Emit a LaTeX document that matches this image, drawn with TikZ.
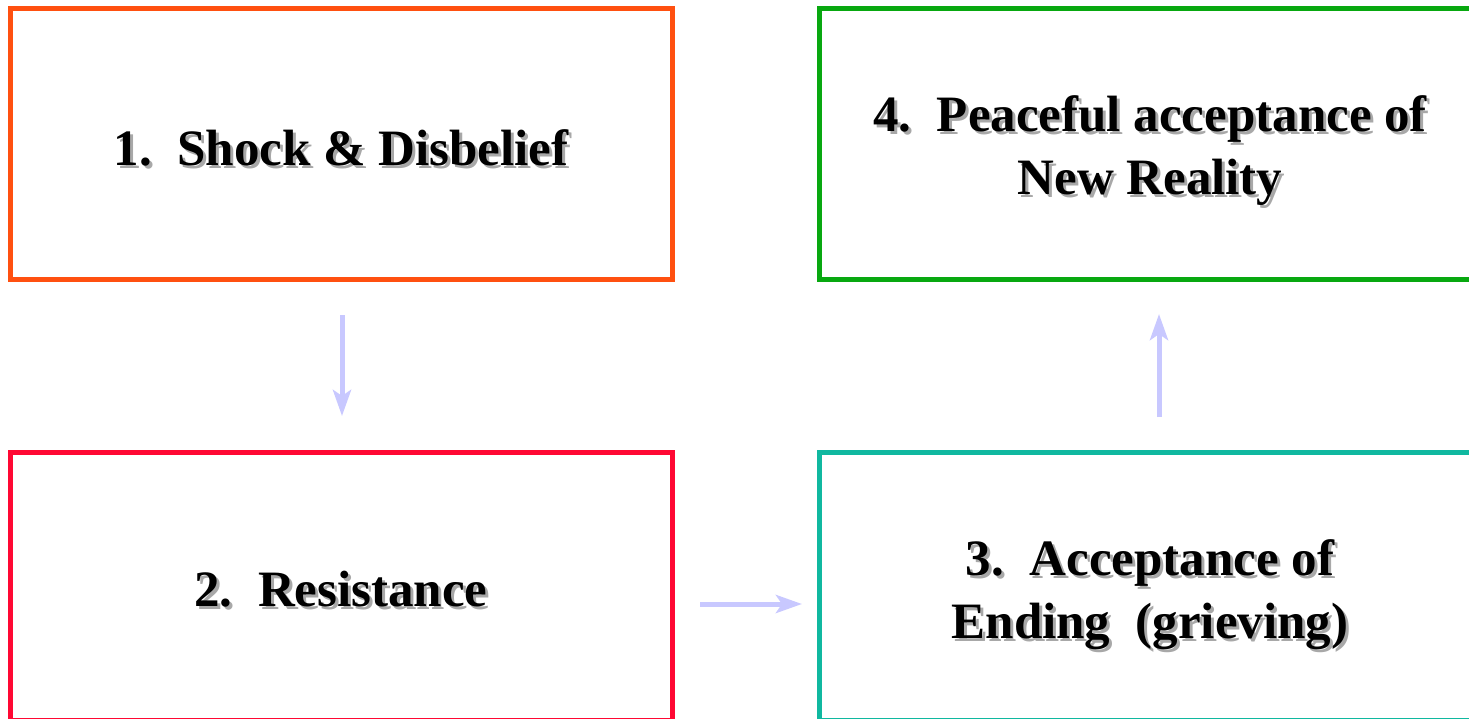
\documentclass[tikz,border=0pt]{standalone}
\usepackage{fontspec}
\setmainfont{Liberation Serif}
\usetikzlibrary{arrows.meta}
\definecolor{cshock}{HTML}{FF5010}
\definecolor{cresist}{HTML}{FF0833}
\definecolor{caccept}{HTML}{10B8A0}
\definecolor{cpeace}{HTML}{08A810}
\definecolor{cflow}{HTML}{C8C8FF}
\definecolor{cshade}{HTML}{A8A8A8}
\begin{document}
\begin{tikzpicture}[x=1pt,y=-1pt,
  stagebox/.style={draw=#1, line width=5pt, rectangle, inner sep=0pt},
  stagetext/.style={font=\fontsize{51}{63}\selectfont\bfseries, align=center, text=black, inner sep=0pt},
  stageshade/.style={stagetext, text=cshade},
  flow/.style={draw=cflow, line width=5pt, -{Stealth[length=26pt,width=18pt,inset=6pt]}}]
  \useasboundingbox (0,0) rectangle (1469,718);
  \clip (0,0) rectangle (1469,718);
  % four stage frames
  \node[stagebox=cshock, minimum width=662pt, minimum height=271pt] (b1) at (341,143.5) {};
  \node[stagebox=cresist, minimum width=662pt, minimum height=268pt] (b2) at (341,586) {};
  \node[stagebox=caccept, minimum width=662pt, minimum height=268pt] (b3) at (1150,586) {};
  \node[stagebox=cpeace, minimum width=662pt, minimum height=271pt] (b4) at (1150,143.5) {};
  % stage labels with a soft drop shadow
  \node[stageshade] at ([xshift=3pt,yshift=-3pt]341,148) {1.\ \ Shock \& Disbelief};
  \node[stagetext] (t1) at (341,148) {1.\ \ Shock \& Disbelief};
  \node[stageshade] at ([xshift=3pt,yshift=-3pt]341,589) {2.\ \ Resistance};
  \node[stagetext] (t2) at (341,589) {2.\ \ Resistance};
  \node[stageshade] at ([xshift=3pt,yshift=-3pt]1150,595) {3.\ \ Acceptance of\\Ending\ \ (grieving)};
  \node[stagetext] (t3) at (1150,595) {3.\ \ Acceptance of\\Ending\ \ (grieving)};
  \node[stageshade] at ([xshift=3pt,yshift=-3pt]1150,151) {4.\ \ Peaceful acceptance of\\New Reality};
  \node[stagetext] (t4) at (1150,151) {4.\ \ Peaceful acceptance of\\New Reality};
  % transitions between stages
  \coordinate (a1s) at (342,315); \coordinate (a1e) at (342,416);
  \coordinate (a2s) at (700,604); \coordinate (a2e) at (802,604);
  \coordinate (a3s) at (1159,417); \coordinate (a3e) at (1159,314);
  \draw[flow] (a1s) -- (a1e);
  \draw[flow] (a2s) -- (a2e);
  \draw[flow] (a3s) -- (a3e);
\end{tikzpicture}
\end{document}
